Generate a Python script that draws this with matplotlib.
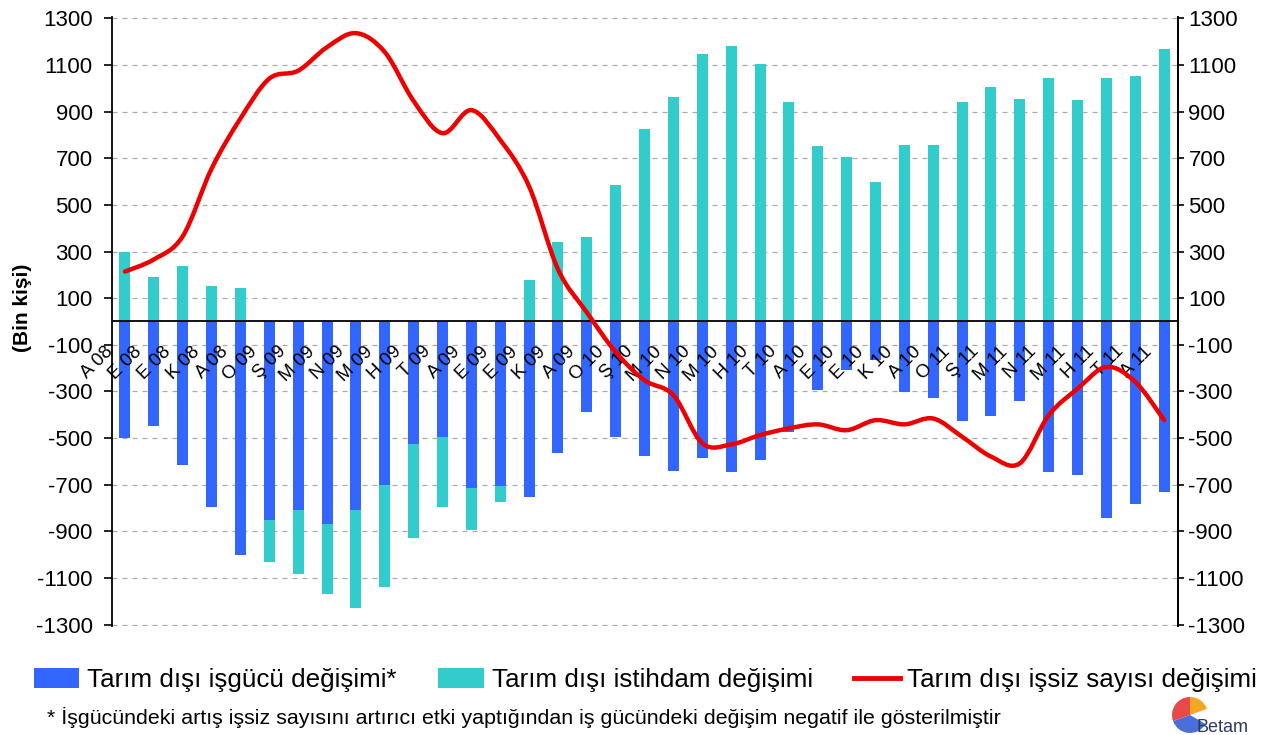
import numpy as np
import matplotlib
matplotlib.use('Agg')
import matplotlib.pyplot as plt
from matplotlib.path import Path
from matplotlib.patches import PathPatch, Patch, Wedge
from matplotlib.lines import Line2D

plt.rcParams['font.family'] = ['Liberation Sans', 'DejaVu Sans']
plt.rcParams['axes.unicode_minus'] = False

# ---------------------------------------------------------------------------
# Veriler (bin kişi)
# ---------------------------------------------------------------------------
months = ['A 08', 'E 08', 'E 08', 'K 08', 'A 08',
          'O 09', 'Ş 09', 'M 09', 'N 09', 'M 09', 'H 09', 'T 09', 'A 09',
          'E 09', 'E 09', 'K 09', 'A 09',
          'O 10', 'Ş 10', 'M 10', 'N 10', 'M 10', 'H 10', 'T 10', 'A 10',
          'E 10', 'E 10', 'K 10', 'A 10',
          'O 11', 'Ş 11', 'M 11', 'N 11', 'M 11', 'H 11', 'T 11', 'A 11']

# işgücü değişimi (grafikte negatif gösteriliyor)
labor_change = [501, 449, 615, 797, 1001, 852, 807, 866, 807, 700, 525, 494,
                714, 707, 753, 562, 387, 494, 576, 639, 584, 646, 594, 473,
                295, 210, 167, 302, 328, 426, 404, 340, 646, 660, 842, 781, 729]

employment_change = [298, 189, 236, 150, 145, -180, -277, -303, -422, -438,
                     -402, -303, -181, -67, 177, 342, 363, 583, 825, 963,
                     1145, 1183, 1102, 942, 753, 703, 600, 757, 757, 939,
                     1006, 953, 1044, 949, 1044, 1054, 1166]

unemployed_change = [214, 266, 365, 655, 870, 1041, 1075, 1176, 1236, 1155,
                     945, 807, 906, 778, 579, 224, 39, -131, -252, -316,
                     -522, -527, -487, -458, -441, -466, -423, -441, -416,
                     -494, -579, -608, -402, -288, -195, -259, -423]

BLUE = '#3366FF'
TEAL = '#33CCCC'
RED = '#EE0000'

x = np.arange(len(months))
labor_neg = -np.array(labor_change)
emp = np.array(employment_change)
teal_bottom = np.where(emp < 0, labor_neg, 0)

fig = plt.figure(figsize=(12.61, 7.35), dpi=100)
ax = fig.add_axes([0.0888, 0.1487, 0.8454, 0.8278])

ax.bar(x, labor_neg, width=0.38, color=BLUE, zorder=2)
ax.bar(x, emp, width=0.38, bottom=teal_bottom, color=TEAL, zorder=2)

# yumuşatılmış kırmızı çizgi (Catmull-Rom -> Bezier)
pts = np.column_stack([x, unemployed_change]).astype(float)
verts = [pts[0]]
codes = [Path.MOVETO]
n = len(pts)
for i in range(n - 1):
    p0 = pts[max(i - 1, 0)]
    p1 = pts[i]
    p2 = pts[i + 1]
    p3 = pts[min(i + 2, n - 1)]
    verts += [p1 + (p2 - p0) / 6, p2 - (p3 - p1) / 6, p2]
    codes += [Path.CURVE4] * 3
ax.add_patch(PathPatch(Path(verts, codes), fill=False, edgecolor=RED,
                       lw=3.2, zorder=5, capstyle='round', joinstyle='round'))

ax.axhline(0, color='black', lw=1.3, zorder=3)

# ay etiketleri
for i, m in enumerate(months):
    ax.text(i - 0.5, -118, m, rotation=45, ha='right', va='center',
            rotation_mode='anchor', fontsize=13.5, zorder=4)

yt = np.arange(-1300, 1301, 200)
ax.set_xlim(-0.45, 36.48)
ax.set_ylim(-1304, 1304)
ax.set_yticks(yt)
ax.set_xticks([])
ax.grid(axis='y', linestyle=(0, (4, 4)), color='#aaaaaa', lw=0.9)
ax.set_axisbelow(True)
for s in ['top', 'bottom']:
    ax.spines[s].set_visible(False)
ax.spines['left'].set_linewidth(1.3)
ax.spines['right'].set_linewidth(1.3)
ax.tick_params(axis='y', direction='out', length=6, width=1.2, labelsize=16, pad=8)

ax2 = ax.twinx()
ax2.set_ylim(-1304, 1304)
ax2.set_yticks(yt)
for s in ['top', 'bottom', 'left']:
    ax2.spines[s].set_visible(False)
ax2.spines['right'].set_linewidth(1.3)
ax2.tick_params(axis='y', direction='out', length=4.5, width=1.2, labelsize=16, pad=3)

fig.text(23 / 1261, 1 - 308 / 735, '(Bin kişi)', rotation=90, fontsize=15,
         fontweight='bold', ha='center', va='center')

# lejant
handles = [Patch(facecolor=BLUE), Patch(facecolor=TEAL),
           Line2D([], [], color=RED, lw=3.5)]
labels = ['Tarım dışı işgücü değişimi*', 'Tarım dışı istihdam değişimi',
          'Tarım dışı işsiz sayısı değişimi']
fig.legend(handles, labels, loc='center left',
           bbox_to_anchor=(34 / 1261, 1 - 680 / 735), ncol=3, frameon=False,
           fontsize=18.7, handlelength=1.75, handleheight=0.8,
           handletextpad=0.3, columnspacing=1.6, borderpad=0,
           borderaxespad=0)

fig.text(47 / 1261, 1 - 717 / 735,
         '* İşgücündeki artış işsiz sayısını artırıcı etki yaptığından iş '
         'gücündeki değişim negatif ile gösterilmiştir',
         fontsize=15.4, va='center', ha='left')

# logo
lax = fig.add_axes([1170 / 1261, 0.0, 40 / 1261, 40 / 735])
lax.set_xlim(-1, 1)
lax.set_ylim(-1, 1)
lax.set_aspect('equal')
lax.axis('off')
lax.add_patch(Wedge((0, 0), 0.9, 90, 200, facecolor='#E84A4A'))
lax.add_patch(Wedge((0, 0), 0.9, 20, 90, facecolor='#F5A623'))
lax.add_patch(Wedge((0, 0), 0.9, 200, 330, facecolor='#4A6FD8'))
fig.text(1196 / 1261, 1 - 728 / 735, 'Betam', fontsize=13, color='#2B3A67',
         va='center', ha='left')

fig.savefig('out.png', dpi=100)
